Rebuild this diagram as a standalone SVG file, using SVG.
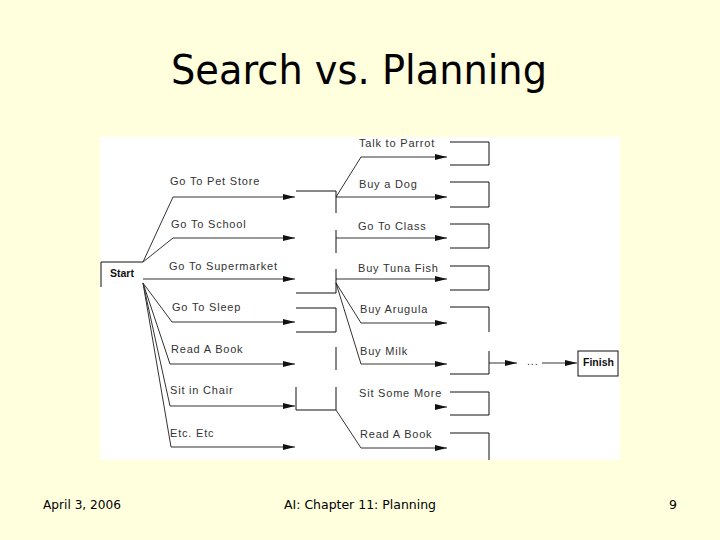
<svg xmlns="http://www.w3.org/2000/svg" width="720" height="540" viewBox="0 0 720 540">
<style>
.t{font-family:"Liberation Sans",Arial,sans-serif;font-size:11px;letter-spacing:0.8px;fill:#333}
.b{font-family:"Liberation Sans",Arial,sans-serif;font-size:10.5px;font-weight:bold;fill:#111}
.box{fill:none;stroke:#111;stroke-width:1}
.con{fill:none;stroke:#333;stroke-width:1}
.arr{marker-end:url(#ah)}
.ft{font-family:"DejaVu Sans",Tahoma,sans-serif;fill:#000}
</style>
<defs>
<marker id="ah" markerUnits="userSpaceOnUse" viewBox="0 -3 12 6" refX="12" refY="0" markerWidth="12" markerHeight="6" orient="auto">
<path d="M0,-3 L12,0 L0,3 z" fill="#111"/>
</marker>
</defs>
<rect x="0" y="0" width="720" height="540" fill="#FFFFDD"/>
<text class="ft" x="359" y="84" font-size="40" text-anchor="middle" textLength="376" lengthAdjust="spacingAndGlyphs">Search vs. Planning</text>
<rect x="100" y="137" width="520" height="323" fill="#FFFFFF"/>

<g id="connectors">
<path class="con arr" d="M143,262 L173,197 H295"/>
<path class="con arr" d="M143,262 L173,238 H295"/>
<path class="con arr" d="M143,279 H295"/>
<path class="con arr" d="M143,283 L172,322 H295"/>
<path class="con arr" d="M143,283 L170,364 H295"/>
<path class="con arr" d="M143,283 L170,406 H295"/>
<path class="con arr" d="M143,283 L171,447 H295"/>
<path class="con arr" d="M336,197 L361,157 H447"/>
<path class="con arr" d="M336,197 H447"/>
<path class="con arr" d="M336,238 H447"/>
<path class="con arr" d="M336,279 H447"/>
<path class="con arr" d="M336,283 L361,323 H447"/>
<path class="con arr" d="M336,283 L361,364 H447"/>
<path class="con arr" d="M436,407 H447"/>
<path class="con arr" d="M336,410 L361,448 H447"/>
<path class="con arr" d="M489,363 H517"/>
<path class="con arr" d="M542,363 H577"/>
<text class="t" x="527" y="365" letter-spacing="0">...</text>
<text class="t" x="170" y="185">Go To Pet Store</text>
<text class="t" x="171" y="228">Go To School</text>
<text class="t" x="169" y="270">Go To Supermarket</text>
<text class="t" x="172" y="311">Go To Sleep</text>
<text class="t" x="171" y="353">Read A Book</text>
<text class="t" x="170" y="394">Sit in Chair</text>
<text class="t" x="170" y="437">Etc. Etc</text>
<text class="t" x="359" y="147">Talk to Parrot</text>
<text class="t" x="359" y="188">Buy a Dog</text>
<text class="t" x="358" y="230">Go To Class</text>
<text class="t" x="358" y="272">Buy Tuna Fish</text>
<text class="t" x="360" y="313">Buy Arugula</text>
<text class="t" x="360" y="355">Buy Milk</text>
<text class="t" x="359" y="397">Sit Some More</text>
<text class="t" x="360" y="438">Read A Book</text>
</g>

<g id="start">
<path class="box" d="M101,287 V262 H143"/>
<text class="b" x="110" y="277">Start</text>
</g>

<g id="s1"><path class="box" d="M296,191 H336 V213"/></g>
<g id="s2"><path class="box" d="M336,230 V253"/></g>
<g id="s3"><path class="box" d="M336,269 V293 H296"/></g>
<g id="s4"><path class="box" d="M296,308 H336 V332 H296"/></g>
<g id="s5"><path class="box" d="M336,347 V370"/></g>
<g id="s6"><path class="box" d="M296,387 V410 H336 V387"/></g>

<g id="r1"><path class="box" d="M450,142 H489 V165 H450"/></g>
<g id="r2"><path class="box" d="M450,182 H489 V207 H450"/></g>
<g id="r3"><path class="box" d="M450,224 H489 V248 H450"/></g>
<g id="r4"><path class="box" d="M450,266 H489 V290 H450"/></g>
<g id="r5"><path class="box" d="M450,307 H489 V332"/></g>
<g id="r6"><path class="box" d="M489,351 V374 H450"/></g>
<g id="r7"><path class="box" d="M450,392 H489 V415 H450"/></g>
<g id="r8"><path class="box" d="M450,433 H489 V460"/></g>

<g id="finish">
<rect class="box" x="578" y="351" width="40" height="25"/>
<text class="b" x="583" y="366">Finish</text>
</g>

<g id="footer">
<text class="ft" x="43" y="509" font-size="12.5" textLength="78" lengthAdjust="spacingAndGlyphs">April 3, 2006</text>
<text class="ft" x="360" y="509" font-size="12.5" text-anchor="middle" textLength="152" lengthAdjust="spacingAndGlyphs">AI: Chapter 11: Planning</text>
<text class="ft" x="669" y="509" font-size="12.5">9</text>
</g>
</svg>
